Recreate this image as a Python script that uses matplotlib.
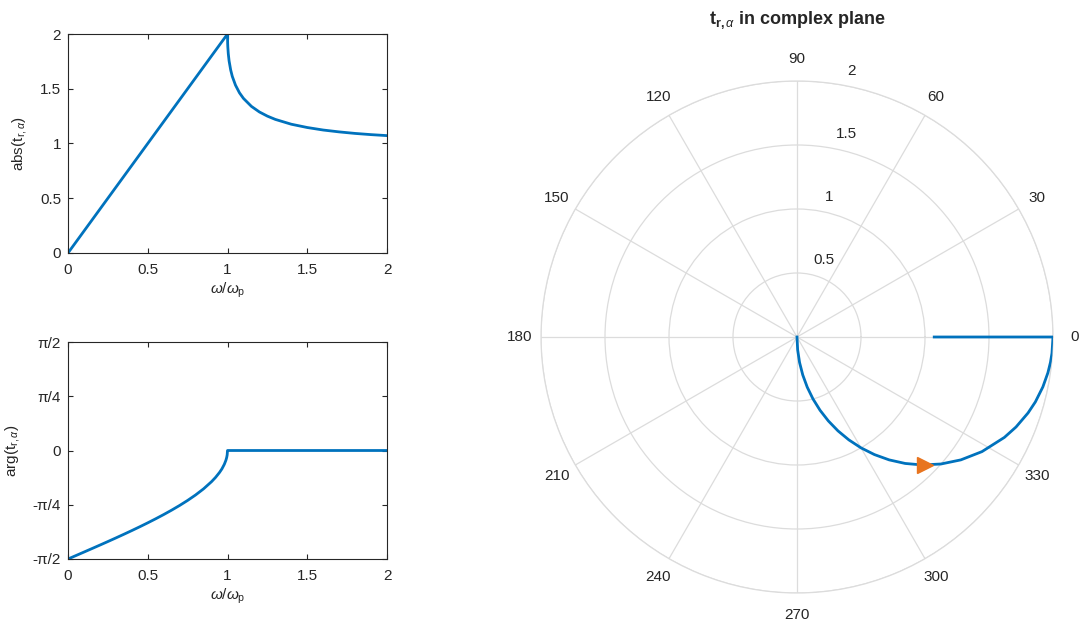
import numpy as np
import matplotlib
matplotlib.use("Agg")
import matplotlib.pyplot as plt
from matplotlib.transforms import ScaledTranslation

plt.rcParams['font.family'] = ['Liberation Sans', 'DejaVu Sans']
plt.rcParams['mathtext.fontset'] = 'custom'
plt.rcParams['mathtext.rm'] = 'Liberation Sans'
plt.rcParams['mathtext.it'] = 'Liberation Sans:italic'
plt.rcParams['mathtext.bf'] = 'Liberation Sans:bold'

# ---- data ----
w_ratio = [0.0, 0.05, 0.1, 0.15, 0.2, 0.25, 0.3, 0.35, 0.4, 0.45, 0.5, 0.55, 0.6, 0.65, 0.7,
           0.75, 0.8, 0.85, 0.9, 0.925, 0.95, 0.965, 0.98, 0.99, 0.995, 0.998, 1.0,
           1.001, 1.002, 1.005, 1.01, 1.02, 1.03, 1.05, 1.075, 1.1, 1.15, 1.2, 1.25, 1.3,
           1.4, 1.5, 1.6, 1.7, 1.8, 1.9, 2.0]
abs_t = [0.0, 0.1, 0.2, 0.3, 0.4, 0.5, 0.6, 0.7, 0.8, 0.9, 1.0, 1.1, 1.2, 1.3, 1.4,
         1.5, 1.6, 1.7, 1.8, 1.85, 1.9, 1.93, 1.96, 1.98, 1.99, 1.996, 2.0,
         1.915, 1.881, 1.819, 1.754, 1.671, 1.613, 1.533, 1.463, 1.412, 1.339, 1.288, 1.25, 1.220,
         1.176, 1.146, 1.123, 1.106, 1.092, 1.081, 1.072]
arg_t = [-1.5708, -1.5208, -1.4706, -1.4202, -1.3694, -1.3181, -1.2661, -1.2132, -1.1593, -1.1040,
         -1.0472, -0.9884, -0.9273, -0.8632, -0.7954, -0.7227, -0.6435, -0.5548, -0.4510, -0.3898,
         -0.3176, -0.2660, -0.2003, -0.1415, -0.1000, -0.0633, 0.0,
         0.0, 0.0, 0.0, 0.0, 0.0, 0.0, 0.0, 0.0, 0.0, 0.0, 0.0, 0.0, 0.0,
         0.0, 0.0, 0.0, 0.0, 0.0, 0.0, 0.0]
arrow_theta_deg = -45.0
arrow_r = 1.41

x_ticks = [0, 0.5, 1, 1.5, 2]
x_ticklabels = ['0', '0.5', '1', '1.5', '2']
abs_ticks = [0, 0.5, 1, 1.5, 2]
abs_ticklabels = ['0', '0.5', '1', '1.5', '2']
arg_ticks = [-np.pi / 2, -np.pi / 4, 0, np.pi / 4, np.pi / 2]
arg_ticklabels = ['-π/2', '-π/4', '0', 'π/4', 'π/2']
theta_ticks = [0, 30, 60, 90, 120, 150, 180, 210, 240, 270, 300, 330]
r_ticks = [0.5, 1, 1.5, 2]
r_ticklabels = ['0.5', '1', '1.5', '2']

# ---- style ----
BLUE = '#0072BD'
ORANGE = '#E8741E'
AXC = '#262626'
GRIDC = '#DCDCDC'
FS = 11

W, H = 1080, 619
fig = plt.figure(figsize=(W / 100, H / 100), dpi=100)


def box(l, t, r, b):
    return [l / W, 1 - b / H, (r - l) / W, (b - t) / H]


def style_cart(ax):
    for s in ax.spines.values():
        s.set_color(AXC)
        s.set_linewidth(0.8)
    ax.tick_params(direction='in', top=True, right=True, length=3.5, width=0.8,
                   colors=AXC, labelsize=FS)
    ax.tick_params(axis='x', pad=7)
    ax.tick_params(axis='y', pad=5)


XLAB = r'$\mathit{\omega}/\mathit{\omega}_\mathrm{p}$'

ax1 = fig.add_axes(box(68, 34, 387, 253))
ax1.plot(w_ratio, abs_t, color=BLUE, lw=2)
ax1.set_xlim(0, 2)
ax1.set_ylim(0, 2)
ax1.set_xticks(x_ticks)
ax1.set_xticklabels(x_ticklabels)
ax1.set_yticks(abs_ticks)
ax1.set_yticklabels(abs_ticklabels)
ax1.set_xlabel(XLAB, fontsize=FS, color=AXC, labelpad=3)
ax1.set_ylabel(r'abs(t$_{\mathrm{r,}\alpha}$)', fontsize=FS, color=AXC, labelpad=8)
style_cart(ax1)

ax2 = fig.add_axes(box(68, 342, 387, 559))
ax2.plot(w_ratio, arg_t, color=BLUE, lw=2)
ax2.set_xlim(0, 2)
ax2.set_ylim(-np.pi / 2, np.pi / 2)
ax2.set_xticks(x_ticks)
ax2.set_xticklabels(x_ticklabels)
ax2.set_yticks(arg_ticks)
ax2.set_yticklabels(arg_ticklabels)
ax2.set_xlabel(XLAB, fontsize=FS, color=AXC, labelpad=3)
ax2.set_ylabel(r'arg(t$_{\mathrm{r,}\alpha}$)', fontsize=FS, color=AXC, labelpad=8)
style_cart(ax2)

# ---- polar ----
axp = fig.add_axes(box(541, 81, 1053, 593), projection='polar')
axp.plot(arg_t, abs_t, color=BLUE, lw=2, zorder=3)
axp.plot([np.deg2rad(arrow_theta_deg)], [arrow_r], marker='>', color=ORANGE,
         markersize=11, linestyle='none', zorder=4)
axp.set_ylim(0, 2)
axp.set_thetagrids(theta_ticks, [str(t) for t in theta_ticks])
axp.set_rgrids(r_ticks, [''] * len(r_ticks))
axp.grid(True, color=GRIDC, lw=0.9)
axp.spines['polar'].set_color(GRIDC)
axp.spines['polar'].set_linewidth(0.9)
axp.tick_params(axis='x', labelsize=FS, colors=AXC, pad=5)

# radial tick labels placed like MATLAB (left/bottom aligned beside the 80 deg spoke)
off = axp.transData + ScaledTranslation(4 / 72, 5 / 72, fig.dpi_scale_trans)
for rv, rl in zip(r_ticks, r_ticklabels):
    axp.text(np.deg2rad(80), rv, rl, transform=off, ha='left', va='bottom',
             fontsize=FS, color=AXC, zorder=5)

fig.text(797 / W, 1 - 20 / H, r'$\mathbf{t}_{\mathbf{r,}\mathit{\alpha}}$ in complex plane',
         ha='center', va='center', fontsize=13, fontweight='bold', color=AXC)

fig.savefig('out.png', dpi=100)
